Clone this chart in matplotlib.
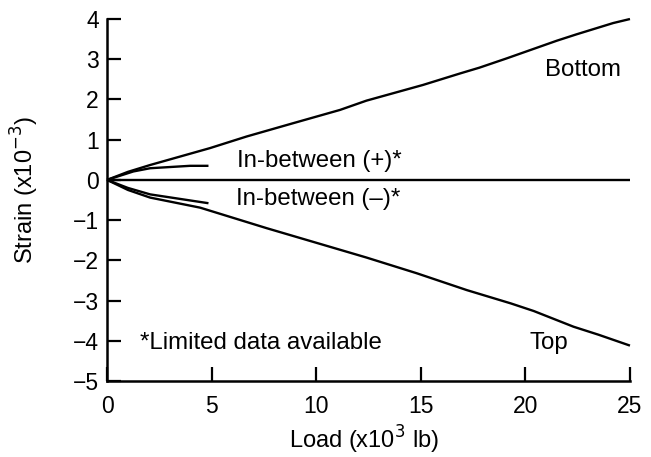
import matplotlib
matplotlib.use("Agg")
import matplotlib.pyplot as plt

plt.rcParams['font.family'] = ['Liberation Sans', 'DejaVu Sans']

# Data (load in x10^3 lb, strain in x10^-3)
bottom_x = [0, 1.0, 2.06, 4.92, 6.68, 8.9, 11.14, 12.4, 15.1, 16.9, 17.8, 19.1, 21.5, 22.45, 24.2, 25]
bottom_y = [0, 0.2, 0.37, 0.79, 1.08, 1.41, 1.74, 1.97, 2.36, 2.65, 2.79, 3.02, 3.46, 3.62, 3.9, 4.0]

top_x = [0, 1.0, 2.06, 4.45, 7.63, 12.4, 14.8, 17.2, 19.3, 20.4, 22.3, 23.5, 25]
top_y = [0, -0.25, -0.44, -0.69, -1.2, -1.93, -2.32, -2.74, -3.07, -3.26, -3.65, -3.85, -4.12]

inb_pos_x = [0, 1.26, 2.06, 3.97, 4.85]
inb_pos_y = [0, 0.21, 0.29, 0.35, 0.35]

inb_neg_x = [0, 1.0, 2.06, 4.85]
inb_neg_y = [0, -0.2, -0.36, -0.58]

zero_x = [0, 25]
zero_y = [0, 0]

xticks = [0, 5, 10, 15, 20, 25]
yticks = [-5, -4, -3, -2, -1, 0, 1, 2, 3, 4]

fig = plt.figure(figsize=(6.51, 4.57), dpi=100)
ax = fig.add_axes([0.1644, 0.1663, 0.9677 - 0.1644, 0.9584 - 0.1663])

lw = 1.7
for xs, ys in [(bottom_x, bottom_y), (top_x, top_y), (inb_pos_x, inb_pos_y),
               (inb_neg_x, inb_neg_y), (zero_x, zero_y)]:
    ax.plot(xs, ys, color='black', lw=lw, solid_capstyle='butt', clip_on=False)

ax.set_xlim(0, 25)
ax.set_ylim(-5, 4)
ax.set_xticks(xticks)
ax.set_yticks(yticks)
ax.spines['top'].set_visible(False)
ax.spines['right'].set_visible(False)
for s in ['left', 'bottom']:
    ax.spines[s].set_linewidth(1.8)
ax.tick_params(direction='in', length=10, width=1.6, labelsize=16.5, color='black')
ax.tick_params(axis='x', pad=10)
ax.tick_params(axis='y', pad=6)

fs = 17.3
ax.text(22.75, 2.74, 'Bottom', fontsize=fs, ha='center', va='center')
ax.text(6.2, 0.47, 'In-between (+)*', fontsize=fs, ha='left', va='center')
ax.text(6.17, -0.47, 'In-between (\u2013)*', fontsize=fs, ha='left', va='center')
ax.text(1.58, -4.06, '*Limited data available', fontsize=fs, ha='left', va='center')
ax.text(21.1, -4.06, 'Top', fontsize=fs, ha='center', va='center')

fig.text(364 / 651, 1 - 440 / 457, 'Load (x10$^3$ lb)', fontsize=17, ha='center', va='center')
fig.text(25 / 651, 1 - 190 / 457, 'Strain (x10$^{\u22123}$)', fontsize=17, ha='center', va='center', rotation=90)

fig.savefig('out.png', dpi=100)
